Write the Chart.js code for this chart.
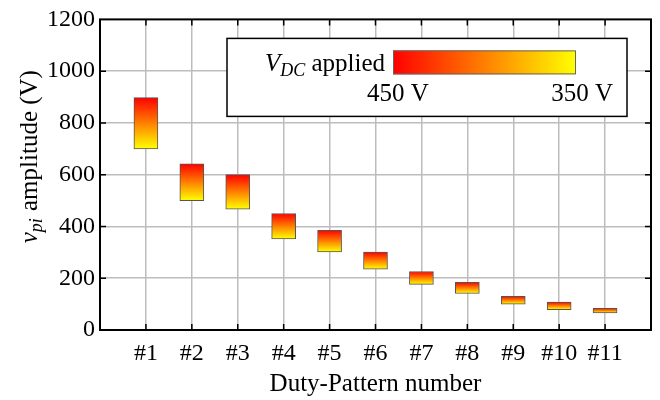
<!DOCTYPE html>
<html>
<head>
<meta charset="utf-8">
<script src="https://cdn.jsdelivr.net/npm/chart.js@4.4.1/dist/chart.umd.min.js"></script>
<style>
  html, body { margin: 0; padding: 0; background: #fff; }
</style>
</head>
<body>
<canvas id="vpiChart" width="660" height="400"></canvas>
<script>
// duty patterns and measured v_pi amplitude range (V)
const patterns = [1, 2, 3, 4, 5, 6, 7, 8, 9, 10, 11];
const patternLabels = ['#1', '#2', '#3', '#4', '#5', '#6', '#7', '#8', '#9', '#10', '#11'];
const vpiAt450 = [898, 642, 600, 450, 385, 301, 226, 184, 130, 108, 84];
const vpiAt350 = [700, 500, 467, 352, 302, 235, 176, 141, 100, 79, 66];
const legendLabels = ['450 V', '350 V'];

const FONT = "'Liberation Serif', 'Times New Roman', serif";
const GRID = '#bdbdbd';

Chart.defaults.font.family = FONT;
Chart.defaults.color = '#000';

function barGradient(context) {
    const chart = context.chart;
    if (!chart.chartArea || !context.raw) return '#ff9900';
    const y = chart.scales.y;
    const top = y.getPixelForValue(context.raw.y[1]);
    const bottom = y.getPixelForValue(context.raw.y[0]);
    const g = chart.ctx.createLinearGradient(0, top, 0, bottom);
    g.addColorStop(0, '#ff0000');
    g.addColorStop(1, '#ffff00');
    return g;
}

// box around the plot + inward tick marks on all sides
const framePlugin = {
    id: 'frame',
    afterDatasetsDraw(chart) {
        const { ctx, chartArea: a, scales } = chart;
        ctx.save();
        ctx.strokeStyle = '#000';
        ctx.lineWidth = 1.5;
        ctx.beginPath();
        scales.x.ticks.forEach(t => {
            if (t.value <= 0 || t.value >= 12) return;
            const px = scales.x.getPixelForValue(t.value);
            ctx.moveTo(px, a.bottom); ctx.lineTo(px, a.bottom - 6);
            ctx.moveTo(px, a.top); ctx.lineTo(px, a.top + 6);
        });
        scales.y.ticks.forEach(t => {
            if (t.value <= 0 || t.value >= 1200) return;
            const py = scales.y.getPixelForValue(t.value);
            ctx.moveTo(a.left, py); ctx.lineTo(a.left + 6, py);
            ctx.moveTo(a.right, py); ctx.lineTo(a.right - 6, py);
        });
        ctx.stroke();
        ctx.lineWidth = 2;
        ctx.strokeRect(a.left, a.top, a.right - a.left, a.bottom - a.top);
        ctx.restore();
    },
    afterDraw(chart) {
        const { ctx, chartArea: a } = chart;
        ctx.save();
        ctx.fillStyle = '#000';

        // y axis title: v_pi amplitude (V)
        ctx.translate(37, (a.top + a.bottom) / 2 - 18);
        ctx.rotate(-Math.PI / 2);
        ctx.textBaseline = 'alphabetic';
        const main = "25px " + FONT, it = "italic 25px " + FONT, sub = "italic 18px " + FONT;
        ctx.font = it; const wV = ctx.measureText('v').width;
        ctx.font = sub; const wS = ctx.measureText('pi').width;
        ctx.font = main; const wR = ctx.measureText(' amplitude (V)').width;
        let x = -(wV + wS + 1 + wR) / 2;
        ctx.textAlign = 'left';
        ctx.font = it; ctx.fillText('v', x, 0); x += wV;
        ctx.font = sub; ctx.fillText('pi', x, 5); x += wS + 1;
        ctx.font = main; ctx.fillText(' amplitude (V)', x, 0);
        ctx.restore();

        // colour legend box
        ctx.save();
        const bx = a.left + 127, by = a.top + 19, bw = 400, bh = 78;
        ctx.fillStyle = '#fff';
        ctx.fillRect(bx, by, bw, bh);
        ctx.strokeStyle = '#000';
        ctx.lineWidth = 1.5;
        ctx.strokeRect(bx, by, bw, bh);

        const gx = bx + 166, gy = by + 12, gw = 183, gh = 24;
        const g = ctx.createLinearGradient(gx, 0, gx + gw, 0);
        g.addColorStop(0, '#ff0000');
        g.addColorStop(1, '#ffff00');
        ctx.fillStyle = g;
        ctx.fillRect(gx, gy, gw, gh);
        ctx.strokeStyle = '#666';
        ctx.lineWidth = 1;
        ctx.strokeRect(gx + 0.5, gy + 0.5, gw - 1, gh - 1);

        ctx.fillStyle = '#000';
        ctx.textBaseline = 'alphabetic';
        ctx.textAlign = 'left';
        let lx = bx + 38;
        const ly = by + 33;
        ctx.font = "italic 25px " + FONT; ctx.fillText('V', lx, ly); lx += ctx.measureText('V').width;
        ctx.font = "italic 18px " + FONT; ctx.fillText('DC', lx, ly + 5); lx += ctx.measureText('DC').width;
        ctx.font = "25px " + FONT; ctx.fillText(' applied', lx, ly);

        ctx.font = "25px " + FONT;
        ctx.textAlign = 'left';
        ctx.fillText(legendLabels[0], bx + 140, by + 63);
        ctx.textAlign = 'right';
        ctx.fillText(legendLabels[1], bx + 386, by + 63);
        ctx.restore();
    }
};

const ctx = document.getElementById('vpiChart').getContext('2d');
new Chart(ctx, {
    type: 'bar',
    data: {
        datasets: [{
            data: patterns.map((p, i) => ({ x: p, y: [vpiAt350[i], vpiAt450[i]] })),
            backgroundColor: barGradient,
            borderColor: '#555',
            borderWidth: 1,
            borderSkipped: false,
            barThickness: 24
        }]
    },
    options: {
        responsive: false,
        devicePixelRatio: 1,
        animation: false,
        layout: { padding: { left: 0, top: 15, right: 8, bottom: 0 } },
        plugins: {
            legend: { display: false },
            tooltip: { enabled: false }
        },
        scales: {
            x: {
                type: 'linear',
                min: 0,
                max: 12,
                offset: false,
                grid: {
                    offset: false,
                    drawTicks: false,
                    lineWidth: 1.5,
                    color: c => (c.tick && (c.tick.value === 0 || c.tick.value === 12)) ? 'rgba(0,0,0,0)' : GRID
                },
                border: { display: false },
                ticks: {
                    stepSize: 1,
                    autoSkip: false,
                    maxRotation: 0,
                    padding: 9,
                    font: { size: 24 },
                    callback: v => (v >= 1 && v <= 11) ? patternLabels[v - 1] : ''
                },
                title: {
                    display: true,
                    text: 'Duty-Pattern number',
                    font: { size: 25, lineHeight: 1.2 },
                    padding: { top: 0, bottom: 1 }
                },
                afterFit: s => { s.height = 70; }
            },
            y: {
                min: 0,
                max: 1200,
                grid: {
                    drawTicks: false,
                    lineWidth: 1.5,
                    color: c => (c.tick && (c.tick.value === 0 || c.tick.value === 1200)) ? 'rgba(0,0,0,0)' : GRID
                },
                border: { display: false },
                ticks: {
                    stepSize: 200,
                    padding: 5,
                    font: { size: 24 },
                    callback: v => String(v)
                },
                afterFit: s => { s.width = 100; }
            }
        }
    },
    plugins: [framePlugin]
});
</script>
</body>
</html>
